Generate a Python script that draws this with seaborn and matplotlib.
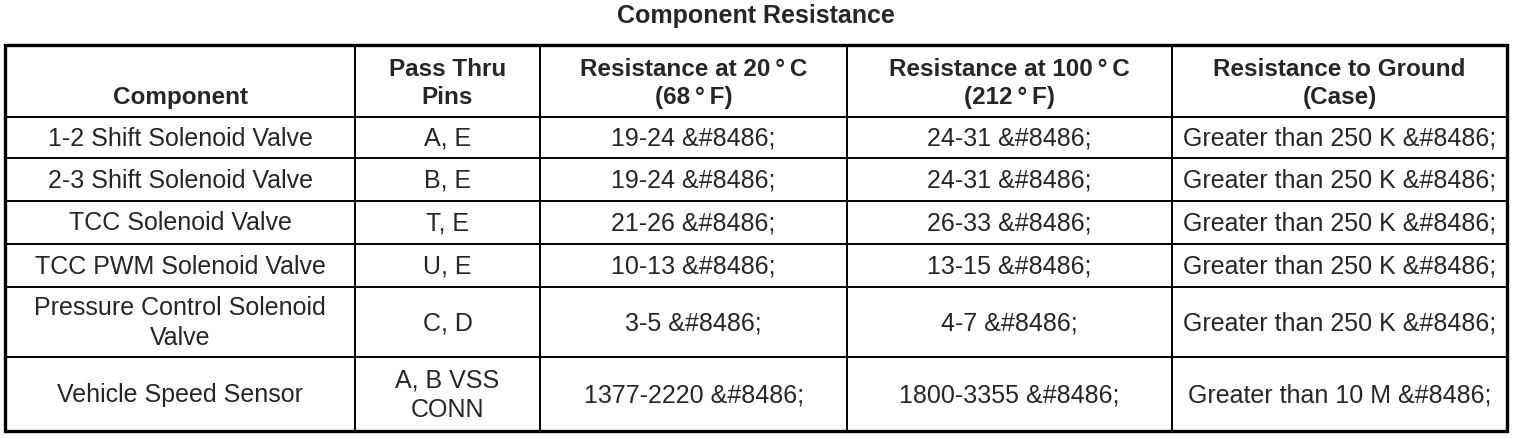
import seaborn as sns
import matplotlib.pyplot as plt

# table content
title = "Component Resistance"
deg = "\u2009°\u2009"
headers = ["Component", "Pass Thru\nPins",
           "Resistance at 20" + deg + "C\n(68" + deg + "F)",
           "Resistance at 100" + deg + "C\n(212" + deg + "F)",
           "Resistance to Ground\n(Case)"]
components = ["1-2 Shift Solenoid Valve", "2-3 Shift Solenoid Valve", "TCC Solenoid Valve",
              "TCC PWM Solenoid Valve", "Pressure Control Solenoid\nValve", "Vehicle Speed Sensor"]
pins = ["A, E", "B, E", "T, E", "U, E", "C, D", "A, B VSS\nCONN"]
res_20c = ["19-24 &#8486;", "19-24 &#8486;", "21-26 &#8486;", "10-13 &#8486;",
           "3-5 &#8486;", "1377-2220 &#8486;"]
res_100c = ["24-31 &#8486;", "24-31 &#8486;", "26-33 &#8486;", "13-15 &#8486;",
            "4-7 &#8486;", "1800-3355 &#8486;"]
res_ground = ["Greater than 250 K &#8486;"] * 5 + ["Greater than 10 M &#8486;"]

# layout (pixels)
col_edges = [5, 355, 540, 847, 1172, 1507]
row_edges = [45, 117, 158, 201, 244, 287, 357, 431]

sns.set_style("white")
plt.rcParams['font.family'] = ['Liberation Sans', 'DejaVu Sans']

fig = plt.figure(figsize=(15.2, 4.38), dpi=100)
ax = fig.add_axes([0, 0, 1, 1])
ax.set_xlim(0, 1520)
ax.set_ylim(438, 0)
ax.axis('off')

fs = 18
fs_head = 17.5
ax.text((col_edges[0] + col_edges[-1]) / 2, 16, title, ha='center', va='center',
        fontsize=fs, fontweight='bold')

# grid lines
for x in col_edges[1:-1]:
    ax.vlines(x, row_edges[0], row_edges[-1], color='black', lw=1.4)
for y in row_edges[1:-1]:
    ax.hlines(y, col_edges[0], col_edges[-1], color='black', lw=1.4)
ax.add_patch(plt.Rectangle((col_edges[0], row_edges[0]), col_edges[-1] - col_edges[0],
                           row_edges[-1] - row_edges[0], fill=False, ec='black', lw=2.4))

# header, bottom aligned
for i, h in enumerate(headers):
    cx = (col_edges[i] + col_edges[i + 1]) / 2
    ax.text(cx, row_edges[1] - 13, h, ha='center', va='baseline', fontsize=fs_head,
            fontweight='bold', linespacing=1.3)

# body
columns = [components, pins, res_20c, res_100c, res_ground]
for j, col in enumerate(columns):
    cx = (col_edges[j] + col_edges[j + 1]) / 2
    for r, val in enumerate(col):
        cy = (row_edges[r + 1] + row_edges[r + 2]) / 2 + 1
        ax.text(cx, cy, val, ha='center', va='center', fontsize=fs, linespacing=1.3)

plt.savefig('out.png', dpi=100, facecolor='white')
